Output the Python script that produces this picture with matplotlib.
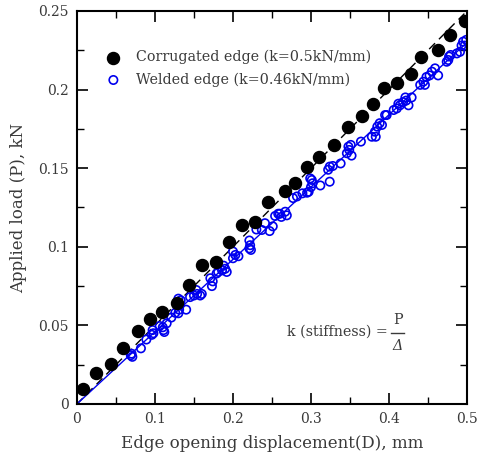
import numpy as np
import matplotlib
matplotlib.use("Agg")
import matplotlib.pyplot as plt
from matplotlib.ticker import MultipleLocator

plt.rcParams['font.family'] = ['DejaVu Serif']

# corrugated edge (filled black)
corr_d = [0.008, 0.024, 0.043, 0.059, 0.078, 0.094, 0.109, 0.128, 0.144,
          0.160, 0.178, 0.195, 0.212, 0.228, 0.245, 0.267, 0.279, 0.295,
          0.310, 0.329, 0.348, 0.366, 0.379, 0.394, 0.410, 0.428, 0.441,
          0.463, 0.478, 0.498]
corr_p = [0.0094, 0.020, 0.0254, 0.0354, 0.0462, 0.054, 0.0585, 0.064, 0.0759,
          0.0884, 0.0903, 0.1033, 0.1139, 0.116, 0.1283, 0.1357, 0.1404, 0.1506,
          0.157, 0.165, 0.176, 0.1834, 0.191, 0.2008, 0.204, 0.2099, 0.221,
          0.2254, 0.235, 0.2438]

# welded edge (open blue)
weld_d = [0.070, 0.071, 0.069, 0.082, 0.089, 0.097, 0.098, 0.096, 0.106, 0.110,
          0.111, 0.112, 0.115, 0.121, 0.126, 0.130, 0.131, 0.132, 0.133, 0.130,
          0.140, 0.145, 0.150, 0.154, 0.158, 0.153, 0.160, 0.173, 0.174, 0.171,
          0.179, 0.181, 0.186, 0.190, 0.192, 0.188, 0.200, 0.203, 0.207, 0.200,
          0.221, 0.222, 0.221, 0.223, 0.230, 0.237, 0.241, 0.247, 0.251, 0.254,
          0.258, 0.262, 0.267, 0.269, 0.260, 0.282, 0.289, 0.295, 0.277, 0.297,
          0.301, 0.300, 0.302, 0.299, 0.312, 0.324, 0.322, 0.324, 0.328, 0.338,
          0.346, 0.349, 0.352, 0.348, 0.351, 0.364, 0.378, 0.382, 0.385, 0.388,
          0.391, 0.383, 0.397, 0.395, 0.406, 0.410, 0.414, 0.418, 0.412, 0.421,
          0.425, 0.422, 0.429, 0.440, 0.444, 0.448, 0.452, 0.455, 0.446, 0.459,
          0.463, 0.474, 0.477, 0.479, 0.476, 0.487, 0.491, 0.493, 0.495, 0.499,
          0.497]
weld_p = [0.032, 0.030, 0.031, 0.0354, 0.041, 0.047, 0.045, 0.044, 0.0496, 0.0488,
          0.047, 0.0458, 0.0513, 0.055, 0.058, 0.0577, 0.060, 0.063, 0.066, 0.067,
          0.060, 0.068, 0.069, 0.070, 0.069, 0.0725, 0.070, 0.075, 0.078, 0.080,
          0.083, 0.084, 0.085, 0.086, 0.084, 0.088, 0.0927, 0.0948, 0.094, 0.097,
          0.104, 0.101, 0.099, 0.098, 0.111, 0.1107, 0.115, 0.110, 0.113, 0.1196,
          0.121, 0.119, 0.1223, 0.120, 0.121, 0.132, 0.134, 0.1344, 0.131, 0.135,
          0.1425, 0.138, 0.1404, 0.1435, 0.139, 0.1414, 0.149, 0.151, 0.1514, 0.153,
          0.1595, 0.1616, 0.158, 0.1637, 0.1648, 0.1669, 0.170, 0.1732, 0.1764, 0.1786,
          0.1775, 0.170, 0.1838, 0.1838, 0.187, 0.188, 0.190, 0.192, 0.191, 0.195,
          0.190, 0.193, 0.195, 0.203, 0.205, 0.208, 0.209, 0.2114, 0.203, 0.2135,
          0.209, 0.2177, 0.221, 0.222, 0.2188, 0.223, 0.224, 0.228, 0.2305, 0.2316,
          0.228]

k_corr = 0.5
k_weld = 0.46
fit_d = np.array([0.0, 0.5])

txt = '#3a3a3a'

fig = plt.figure(figsize=(4.78, 4.57), dpi=100)
ax = fig.add_axes([0.161, 0.116, 0.816, 0.860])

ax.plot(fit_d, k_corr * fit_d, color='black', lw=1.0, ls=(0, (6, 4)), zorder=1)
ax.plot(fit_d, k_weld * fit_d, color='#0000ee', lw=1.0, zorder=1)
ax.scatter(corr_d, corr_p, s=75, color='black', zorder=3,
           label='Corrugated edge (k=0.5kN/mm)')
ax.scatter(weld_d, weld_p, s=36, facecolors='none', edgecolors='#0000ee',
           linewidths=1.2, zorder=2, label='Welded edge (k=0.46kN/mm)')

ax.set_xlim(0, 0.5)
ax.set_ylim(0, 0.25)
ax.xaxis.set_minor_locator(MultipleLocator(0.05))
ax.yaxis.set_minor_locator(MultipleLocator(0.025))
ax.set_xticks([0, 0.1, 0.2, 0.3, 0.4, 0.5])
ax.set_xticklabels(['0', '0.1', '0.2', '0.3', '0.4', '0.5'])
ax.set_yticks([0, 0.05, 0.1, 0.15, 0.2, 0.25])
ax.set_yticklabels(['0', '0.05', '0.1', '0.15', '0.2', '0.25'])
ax.tick_params(which='major', direction='in', length=8, width=1.2,
               top=True, right=True, labelsize=10, labelcolor=txt, pad=6)
ax.tick_params(which='minor', direction='in', length=5, width=1.0,
               top=True, right=True)
for s in ax.spines.values():
    s.set_linewidth(1.5)

ax.set_xlabel('Edge opening displacement(D), mm', fontsize=12, color=txt, labelpad=6)
ax.set_ylabel('Applied load (P), kN', fontsize=12, color=txt, labelpad=8)

leg = ax.legend(loc='upper left', bbox_to_anchor=(0.042, 0.915), frameon=False,
                fontsize=10.3, handletextpad=0.55, labelspacing=0.55,
                scatterpoints=1, borderaxespad=0)
for t in leg.get_texts():
    t.set_color(txt)

ax.text(0.797, 0.183, 'k (stiffness) =', transform=ax.transAxes, fontsize=10.3,
        color=txt, ha='right', va='center')
ax.text(0.822, 0.213, 'P', transform=ax.transAxes, fontsize=10.3,
        color=txt, ha='center', va='center')
ax.text(0.822, 0.147, 'Δ', transform=ax.transAxes, fontsize=10.3,
        color=txt, ha='center', va='center', style='italic')
ax.plot([0.806, 0.838], [0.181, 0.181], transform=ax.transAxes, color=txt, lw=1.0)

fig.savefig('out.png', dpi=100)
